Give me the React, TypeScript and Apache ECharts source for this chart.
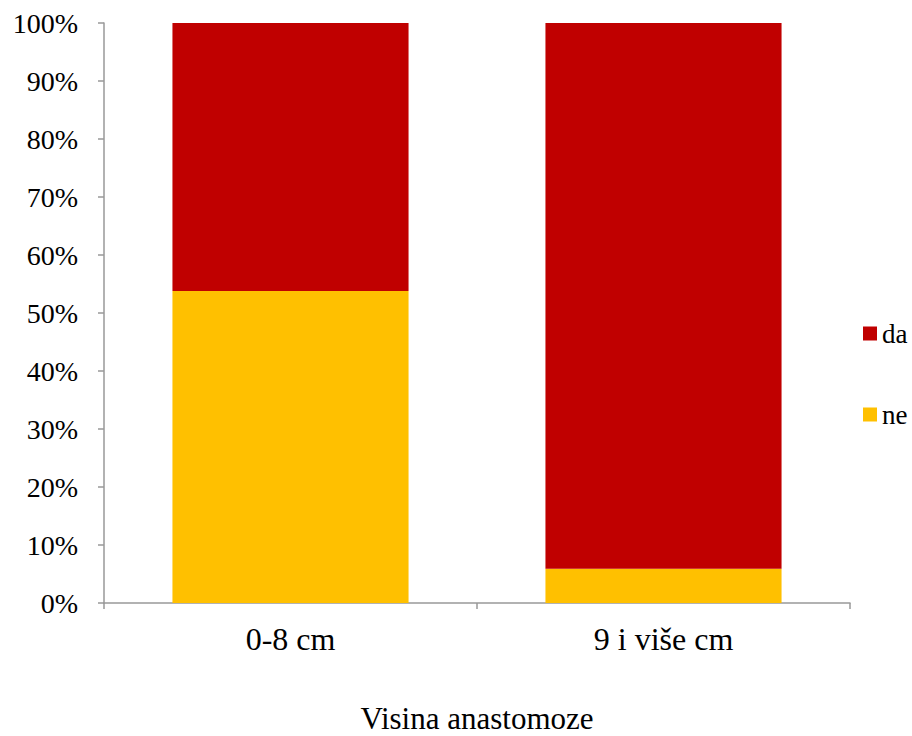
import React, { useEffect, useRef } from "react";
import * as echarts from "echarts";

const categories = ["0-8 cm", "9 i više cm"];
const neValues = [53.8, 5.9];
const daValues = [46.2, 94.1];
const yTicks = { min: 0, max: 100, interval: 10 };
const xAxisName = "Visina anastomoze";

export default function App() {
  const ref = useRef<HTMLDivElement>(null);
  useEffect(() => {
    if (!ref.current) return;
    const chart = echarts.init(ref.current, undefined, { renderer: "svg" });
    const font = "Liberation Serif";
    chart.setOption({
      animation: false,
      backgroundColor: "#ffffff",
      textStyle: { fontFamily: font, color: "#000" },
      grid: { left: 104, right: 62, top: 23, bottom: 133, outerBoundsMode: "none", containLabel: false },
      legend: {
        data: ["da", "ne"],
        orient: "vertical",
        left: 863,
        top: 320,
        padding: 0,
        itemWidth: 14,
        itemHeight: 14,
        itemGap: 54,
        icon: "rect",
        textStyle: { fontFamily: font, fontSize: 27, color: "#000" },
      },
      xAxis: {
        type: "category",
        data: categories,
        name: xAxisName,
        nameLocation: "middle",
        nameGap: 100,
        nameTextStyle: { fontFamily: font, fontSize: 31, color: "#000" },
        axisLine: { lineStyle: { color: "#999", width: 1.5 } },
        axisTick: { show: true, length: 6, lineStyle: { color: "#999", width: 1.5 } },
        axisLabel: { fontFamily: font, fontSize: 32, color: "#000", margin: 20 },
      },
      yAxis: {
        type: "value",
        min: yTicks.min,
        max: yTicks.max,
        interval: yTicks.interval,
        axisLine: { show: true, lineStyle: { color: "#999", width: 1.5 } },
        axisTick: { show: true, length: 6, lineStyle: { color: "#999", width: 1.5 } },
        splitLine: { show: false },
        axisLabel: { fontFamily: font, fontSize: 28, color: "#000", margin: 26, formatter: "{value}%" },
      },
      series: [
        { name: "ne", type: "bar", stack: "total", data: neValues, barWidth: "63.3%", itemStyle: { color: "#FFC000" } },
        { name: "da", type: "bar", stack: "total", data: daValues, barWidth: "63.3%", itemStyle: { color: "#C00000" } },
      ],
    });
    return () => chart.dispose();
  }, []);
  return <div ref={ref} style={{ width: 912, height: 736, position: "absolute", left: 0, top: 0 }} />;
}
